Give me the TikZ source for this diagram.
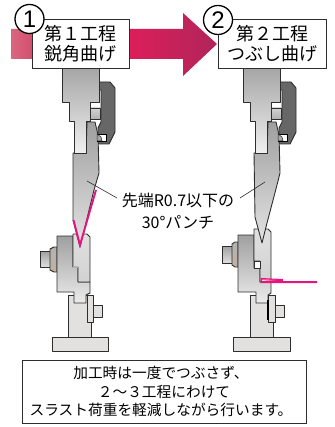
\documentclass[tikz,border=0pt]{standalone}
\usepackage{fontspec}
\setmainfont{Liberation Sans}
\newfontfamily\cjk{Noto Sans CJK JP}
\definecolor{edge}{HTML}{2E2E2E}
\definecolor{pinkline}{HTML}{E5157F}
\definecolor{clampgray}{HTML}{676767}
\definecolor{basefill}{HTML}{E2E1DF}
\definecolor{arrowpale}{HTML}{D9667F}
\definecolor{arrowsoft}{HTML}{D2506F}
\definecolor{arrowmid}{HTML}{DC1E5A}
\definecolor{arrowdeep}{HTML}{B0255A}
\pgfdeclarehorizontalshading{arrowshade}{100bp}{color(0bp)=(arrowpale);color(25bp)=(arrowpale);color(30bp)=(arrowsoft);color(36bp)=(arrowmid);color(54bp)=(arrowmid);color(75bp)=(arrowdeep);color(100bp)=(arrowdeep)}
\tikzset{
  part/.style={draw=edge,line width=.9pt,line join=round},
  basepart/.style={part,fill=basefill},
  boxlabel/.style={draw=edge,line width=.9pt,fill=white,align=center,inner sep=0pt,font=\cjk\fontsize{18}{19.5}\selectfont},
  notelabel/.style={align=center,inner sep=0pt,font=\cjk\fontsize{16}{22}\selectfont},
  numcircle/.style={circle,draw=black,line width=1.3pt,fill=white,minimum size=29pt,inner sep=0pt,font=\fontsize{24}{24}\selectfont},
  leader/.style={draw=edge,line width=.6pt},
  pinkstroke/.style={draw=pinkline,line width=1.9pt,line join=miter},
}
% upper tooling, drawn at the left station's coordinates
\newcommand{\upperparts}[1]{%
  \path[part,fill=clampgray] (99,82)--(110,82)--(115,88)--(115,132)--(109,144)--(98,144)--(98,128)--(101,122)--(101,90)--(99,90)--cycle;
  \path[part,top color=gray!35,bottom color=gray!60] (90,108) rectangle (100,119);
  \path[part,top color=gray!75,bottom color=gray!22] (73,153)--(86,153)--(87,122)--(95,122)--(98,135)--(99,173)--#1--cycle;
  \path[part,top color=gray!70,bottom color=gray!12] (62,68)--(99,68)--(99,102)--(90,102)--(90,121)--(86,121)--(86,153)--(74,153)--(74,121)--(69,121)--(69,102)--(62,102)--cycle;
  \path[draw=black,line width=.9pt,fill=white] (97,134) rectangle (106,141);
  \path[fill=gray!70,draw=edge,line width=.5pt] (97,134)--(101,137)--(102,141)--(97,141)--cycle;
}
\begin{document}
\begin{tikzpicture}[x=1pt,y=-1pt]
\useasboundingbox (0,0) rectangle (334,427);
% process arrow
\path[shading=arrowshade] (11,29)--(183,29)--(183,13)--(217,44)--(183,76)--(183,59)--(11,59)--cycle;
% left lower tooling
\path[part,top color=gray!75,bottom color=gray!25] (40,251) rectangle (50,267);
\path[part,top color=gray!60,bottom color=gray!60!brown!60] (50,249)--(54,247)--(57,247)--(57,272)--(54,272)--(50,270)--cycle;
\path[basepart] (52,337) rectangle (108,351);
\path[basepart] (68,295) rectangle (91,337);
\path[part,top color=gray!75,bottom color=gray!15] (57,236)--(73,236)--(73,267)--(78,267)--(78,282)--(90,282)--(90,293)--(86,295)--(86,303)--(74,303)--(74,292)--(57,292)--cycle;
\path[part,top color=gray!25,bottom color=gray!35] (73,234)--(87,234)--(90,237)--(90,282)--(78,282)--(78,267)--(73,267)--cycle;
\path[fill=gray!60] (73,266) rectangle (78,268);
\path[basepart] (87,295) rectangle (93,322);
\path[basepart] (93,305) rectangle (102,317);
% left upper tooling
\upperparts{(94,190)--(80,247)--(73,220)}
\path[pinkstroke] (73.5,220)--(80,245)--(96,190);
% right lower tooling
\path[part,top color=gray!75,bottom color=gray!25] (222,246) rectangle (232,263);
\path[part,top color=gray!60,bottom color=gray!60!brown!60] (232,244)--(235,242)--(238,242)--(238,267)--(235,267)--(232,265)--cycle;
\path[basepart] (233,337) rectangle (290,351);
\path[basepart] (250,295) rectangle (273,337);
\path[part,top color=gray!75,bottom color=gray!15] (238,235)--(254,235)--(254,268)--(260,268)--(260,282)--(271,282)--(271,293)--(268,295)--(268,303)--(256,303)--(256,292)--(238,292)--cycle;
\path[part,top color=gray!25,bottom color=gray!35] (254,229)--(268,229)--(271,232)--(271,282)--(260,282)--(260,268)--(260,261)--(254,261)--cycle;
\path[part,fill=white] (254,261) rectangle (260,268);
\path[basepart] (268,295) rectangle (275,322);
\path[line width=2pt,draw=black] (268,300)--(268,320);
\path[basepart] (275,305) rectangle (284,317);
\path[fill=pinkline] (260.5,278)--(283,279)--(283,281)--(317,281)--(317,283)--(260.5,283)--cycle;
\path[fill=pink!60] (262,279.5)--(276,280)--(262,281)--cycle;
% right upper tooling
\begin{scope}[xshift=181pt]
\upperparts{(94.7,190)--(86,223)--(81,243)--(74,217)}
\end{scope}
% labels
\node[boxlabel,minimum width=97pt,minimum height=49pt] (stepone) at (80.5,43.5) {第１工程\\鋭角曲げ};
\node[boxlabel,minimum width=108pt,minimum height=49pt] (steptwo) at (272,43.5) {第２工程\\つぶし曲げ};
\node[numcircle] (circone) at (29.5,19) {1};
\node[numcircle] (circtwo) at (218,20) {2};
\node[notelabel] (note) at (178,211) {先端R0.7以下の\\30°パンチ};
\coordinate (noteleft) at (117,198);
\coordinate (noteright) at (240,198);
\coordinate (punchleft) at (87,181);
\coordinate (punchright) at (265,182);
\draw[leader] (noteleft)--(punchleft);
\draw[leader] (noteright)--(punchright);
\node[draw=edge,line width=.9pt,fill=white,minimum width=284pt,minimum height=63pt,align=center,inner sep=0pt,font=\cjk\fontsize{14.7}{18.5}\selectfont] (summary) at (164,391.5) {\hspace*{-6pt}加工時は一度でつぶさず、\\２～３工程にわけて\\\hspace*{-6pt}スラスト荷重を軽減しながら行います。};
\end{tikzpicture}
\end{document}
